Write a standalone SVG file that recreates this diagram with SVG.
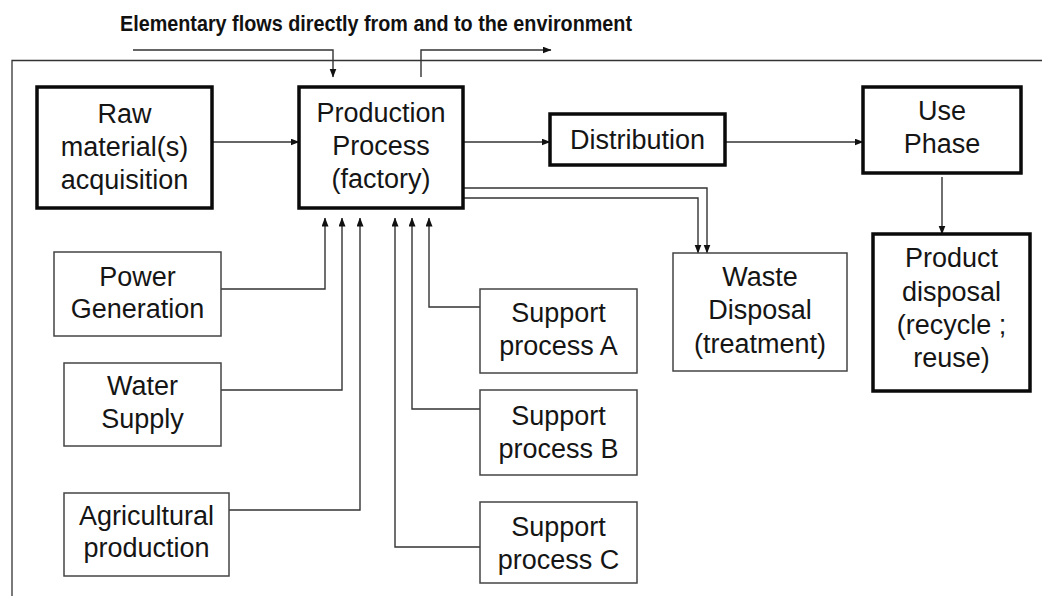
<svg xmlns="http://www.w3.org/2000/svg" width="1042" height="596" viewBox="0 0 1042 596">
<style>
.t{font-family:"Liberation Sans",Arial,sans-serif;font-size:27px;fill:#151515;text-anchor:middle}
.thick{fill:#fff;stroke:#0a0a0a;stroke-width:3.5}
.thin{fill:#fff;stroke:#444;stroke-width:1.5}
.c{fill:none;stroke:#333;stroke-width:1.4}
</style>
<defs>
<marker id="ah" markerWidth="9" markerHeight="8" refX="8.5" refY="3.5" orient="auto" markerUnits="userSpaceOnUse">
<path d="M0,0 L9,3.5 L0,7 z" fill="#111"/>
</marker>
</defs>
<rect x="0" y="0" width="1042" height="596" fill="#fff"/>
<text x="120" y="31" font-family="'Liberation Sans',Arial,sans-serif" font-weight="bold" font-size="22" textLength="512" lengthAdjust="spacingAndGlyphs" fill="#111">Elementary flows directly from and to the environment</text>
<path d="M12 596 V60.5 H1042" fill="none" stroke="#333" stroke-width="1.3"/>
<g id="connectors">
<path class="c" d="M133 50 H333 V77" marker-end="url(#ah)"/>
<path class="c" d="M421 77 V50 H551" marker-end="url(#ah)"/>
<path class="c" d="M212 142 H299" marker-end="url(#ah)"/>
<path class="c" d="M463 142 H550" marker-end="url(#ah)"/>
<path class="c" d="M725 142 H863" marker-end="url(#ah)"/>
<path class="c" d="M942 177 V234" marker-end="url(#ah)"/>
<path class="c" d="M463 188 H707 V253" marker-end="url(#ah)"/>
<path class="c" d="M463 198 H698 V253" marker-end="url(#ah)"/>
<path class="c" d="M221 289 H325 V218" marker-end="url(#ah)"/>
<path class="c" d="M221 390 H342 V218" marker-end="url(#ah)"/>
<path class="c" d="M229 510 H360 V218" marker-end="url(#ah)"/>
<path class="c" d="M480 307 H429 V218" marker-end="url(#ah)"/>
<path class="c" d="M480 409 H412 V218" marker-end="url(#ah)"/>
<path class="c" d="M480 547 H395 V218" marker-end="url(#ah)"/>
</g>
<g id="raw"><rect class="thick" x="37" y="87" width="175" height="121"/>
<text class="t" x="124.5" y="123">Raw</text><text class="t" x="124.5" y="156">material(s)</text><text class="t" x="124.5" y="189">acquisition</text></g>
<g id="production"><rect class="thick" x="299" y="87" width="164" height="121"/>
<text class="t" x="381" y="122">Production</text><text class="t" x="381" y="155">Process</text><text class="t" x="381" y="188">(factory)</text></g>
<g id="distribution"><rect class="thick" x="550" y="114" width="175" height="51"/>
<text class="t" x="637.5" y="149">Distribution</text></g>
<g id="use"><rect class="thick" x="863" y="87" width="158" height="86"/>
<text class="t" x="942" y="120">Use</text><text class="t" x="942" y="153">Phase</text></g>
<g id="productdisposal"><rect class="thick" x="873" y="234" width="157" height="157"/>
<text class="t" x="951.5" y="267">Product</text><text class="t" x="951.5" y="301">disposal</text><text class="t" x="951.5" y="334">(recycle ;</text><text class="t" x="951.5" y="367">reuse)</text></g>
<g id="waste"><rect class="thin" x="673" y="253" width="174" height="118"/>
<text class="t" x="760" y="286">Waste</text><text class="t" x="760" y="319">Disposal</text><text class="t" x="760" y="353">(treatment)</text></g>
<g id="power"><rect class="thin" x="54" y="252" width="167" height="84"/>
<text class="t" x="137.5" y="286">Power</text><text class="t" x="137.5" y="318">Generation</text></g>
<g id="water"><rect class="thin" x="64" y="363" width="157" height="83"/>
<text class="t" x="142.5" y="395">Water</text><text class="t" x="142.5" y="428">Supply</text></g>
<g id="agri"><rect class="thin" x="64" y="493" width="165" height="83"/>
<text class="t" x="146.5" y="525">Agricultural</text><text class="t" x="146.5" y="557">production</text></g>
<g id="supportA"><rect class="thin" x="480" y="289" width="157" height="84"/>
<text class="t" x="558.5" y="322">Support</text><text class="t" x="558.5" y="355">process A</text></g>
<g id="supportB"><rect class="thin" x="480" y="390" width="157" height="85"/>
<text class="t" x="558.5" y="425">Support</text><text class="t" x="558.5" y="458">process B</text></g>
<g id="supportC"><rect class="thin" x="480" y="502" width="157" height="81"/>
<text class="t" x="558.5" y="536">Support</text><text class="t" x="558.5" y="569">process C</text></g>
</svg>
